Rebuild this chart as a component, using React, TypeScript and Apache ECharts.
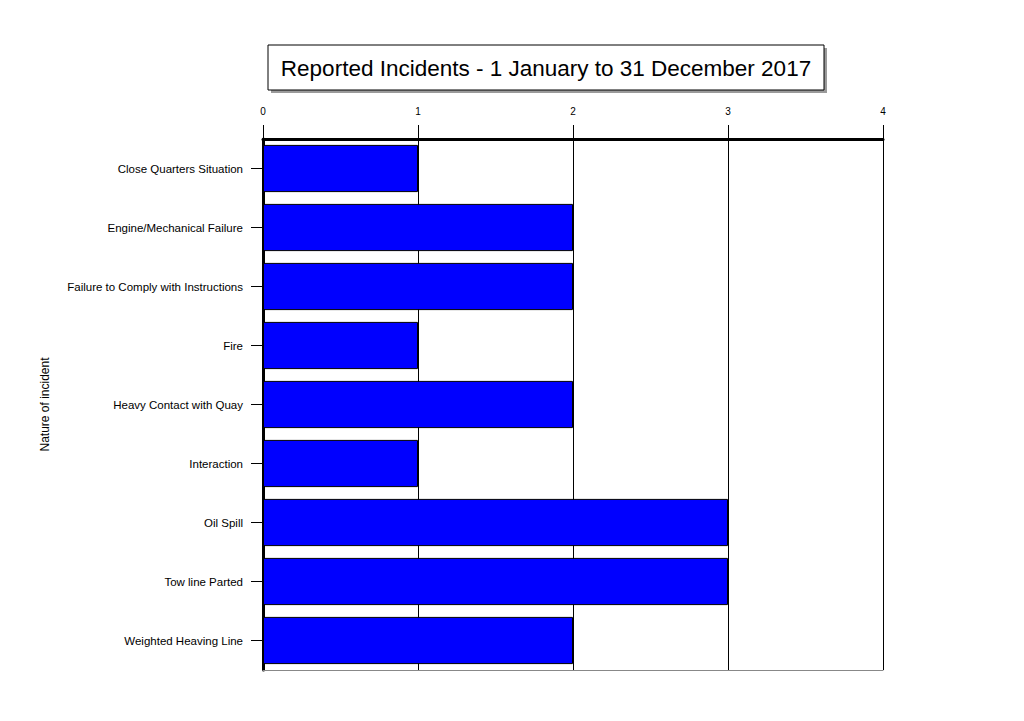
import React, { useEffect, useRef } from 'react';
import * as echarts from 'echarts';

const categories = [
  'Close Quarters Situation',
  'Engine/Mechanical Failure',
  'Failure to Comply with Instructions',
  'Fire',
  'Heavy Contact with Quay',
  'Interaction',
  'Oil Spill',
  'Tow line Parted',
  'Weighted Heaving Line',
];
const incidentCounts = [1, 2, 2, 1, 2, 1, 3, 3, 2];
const titleText = 'Reported Incidents - 1 January to 31 December 2017';
const axisName = 'Nature of incident';

const FONT = 'Arial, "Liberation Sans", sans-serif';

const App: React.FC = () => {
  const chartRef = useRef<HTMLDivElement>(null);

  useEffect(() => {
    document.body.style.margin = '0';
    if (!chartRef.current) return () => {};
    const chart = echarts.init(chartRef.current, null, { renderer: 'svg' });

    const option: any = {
      animation: false,
      backgroundColor: '#fff',
      textStyle: { fontFamily: FONT },
      grid: { left: 263, right: 141, top: 139, bottom: 51, containLabel: false },
      graphic: [
        {
          type: 'rect',
          shape: { x: 271, y: 48, width: 556, height: 45 },
          style: { fill: '#9a9a9a' },
          z: 10,
        },
        {
          type: 'rect',
          shape: { x: 268, y: 45, width: 556, height: 45 },
          style: { fill: '#fff', stroke: '#000', lineWidth: 1 },
          z: 11,
        },
        {
          type: 'text',
          x: 546,
          y: 68,
          style: {
            text: titleText,
            font: `22.5px ${FONT}`,
            fill: '#000',
            align: 'center',
            verticalAlign: 'middle',
          },
          z: 12,
        },
      ],
      xAxis: [
        {
          type: 'value',
          position: 'top',
          min: 0,
          max: 4,
          interval: 1,
          axisLine: { show: true, onZero: false, lineStyle: { color: '#000', width: 3 } },
          axisTick: { show: true, inside: false, length: 14, lineStyle: { color: '#000', width: 1 } },
          axisLabel: { color: '#000', fontSize: 10, margin: 23, fontFamily: FONT },
          splitLine: { show: true, lineStyle: { color: '#000', width: 1 } },
        },
        {
          type: 'value',
          position: 'bottom',
          min: 0,
          max: 4,
          interval: 1,
          axisLine: { show: true, onZero: false, lineStyle: { color: '#888', width: 1 } },
          axisTick: { show: false },
          axisLabel: { show: false },
          splitLine: { show: false },
        },
      ],
      yAxis: {
        type: 'category',
        inverse: true,
        data: categories,
        name: axisName,
        nameLocation: 'middle',
        nameRotate: 90,
        nameGap: 212,
        nameTextStyle: { color: '#000', fontSize: 12, fontFamily: FONT },
        axisLine: { show: true, onZero: false, lineStyle: { color: '#000', width: 3 } },
        axisTick: { show: true, alignWithLabel: true, length: 12, lineStyle: { color: '#000', width: 1 } },
        axisLabel: { color: '#000', fontSize: 11.5, margin: 20, fontFamily: FONT },
        splitLine: { show: false },
      },
      series: [
        {
          type: 'bar',
          data: incidentCounts,
          xAxisIndex: 0,
          barCategoryGap: '20%',
          itemStyle: { color: '#0000ff', borderColor: '#000', borderWidth: 1 },
        },
      ],
    };

    chart.setOption(option);
    return () => {
      chart.dispose();
    };
  }, []);

  return <div ref={chartRef} style={{ width: 1024, height: 721 }} />;
};

export default App;
